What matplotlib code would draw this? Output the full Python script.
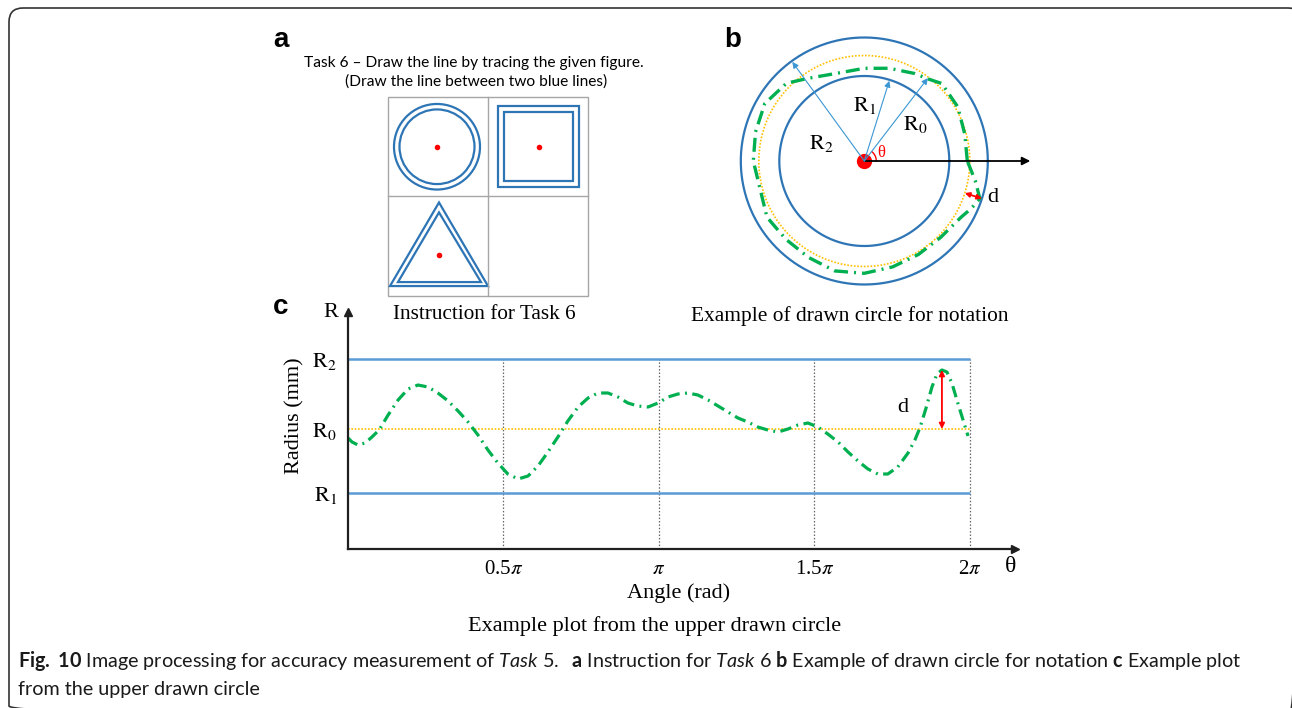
import numpy as np
import matplotlib
matplotlib.use("Agg")
import matplotlib.pyplot as plt
from matplotlib.patches import Circle, Rectangle, Polygon, FancyBboxPatch

# ---------------- data ----------------
# panel c: angle (in units of pi) and drawn radius (mm, schematic)
c_theta = [0.000, 0.013, 0.032, 0.055, 0.077, 0.100, 0.129, 0.161, 0.193, 0.225,
           0.257, 0.289, 0.322, 0.354, 0.386, 0.418, 0.450, 0.482, 0.514, 0.547,
           0.579, 0.611, 0.643, 0.675, 0.707, 0.740, 0.772, 0.804, 0.836, 0.868,
           0.900, 0.932, 0.965, 0.997, 1.029, 1.061, 1.093, 1.125, 1.158, 1.190,
           1.222, 1.254, 1.286, 1.318, 1.350, 1.383, 1.415, 1.447, 1.479, 1.511,
           1.543, 1.576, 1.608, 1.640, 1.672, 1.704, 1.736, 1.768, 1.801, 1.823,
           1.839, 1.859, 1.878, 1.894, 1.910, 1.926, 1.942, 1.961, 1.981, 1.994]
c_radius = [11.1, 10.7, 10.4, 10.6, 11.2, 11.9, 13.4, 14.9, 16.0, 16.4,
            16.2, 15.6, 14.8, 13.8, 12.7, 11.4, 9.9, 8.6, 7.5, 7.0,
            7.3, 8.3, 9.7, 11.2, 12.8, 14.2, 15.1, 15.6, 15.6, 15.2,
            14.6, 14.3, 14.2, 14.6, 15.2, 15.5, 15.6, 15.4, 14.9, 14.3,
            13.7, 13.1, 12.7, 12.2, 11.9, 11.7, 12.0, 12.4, 12.6, 12.2,
            11.5, 10.7, 9.7, 8.8, 8.0, 7.5, 7.5, 8.2, 9.6, 10.9,
            12.1, 14.1, 16.2, 17.5, 17.9, 17.7, 16.6, 14.6, 12.6, 11.3]
c_R1, c_R0, c_R2 = 5.6, 12.0, 19.0
c_ticks = [0.5, 1.0, 1.5, 2.0]
c_ticklabels = [r"0.5$\pi$", r"$\pi$", r"1.5$\pi$", r"2$\pi$"]
c_ylabels = [r"$\mathrm{R}_1$", r"$\mathrm{R}_0$", r"$\mathrm{R}_2$"]
c_d_theta = 1.91

# panel b: drawn circle, angle (deg) and radius (schematic units)
b_theta_deg = [0, 15, 30, 45, 52, 60, 75, 90, 105, 124, 135, 150, 165, 180,
               210, 225, 240, 255, 270, 285, 300, 315, 330, 336, 342, 350, 360]
b_radius = [103, 104, 108, 109.6, 104, 101, 96, 92.7, 91.5, 99.8, 110, 114.9, 112.6, 111,
            112.4, 110.8, 111.4, 113.8, 112.3, 109.6, 108, 108, 112, 117, 121.5, 112.6, 103]
b_R1, b_R0, b_R2 = 85.0, 105.5, 123.5
b_arrow_deg = {"R2": 126.0, "R1": 72.7, "R0": 52.5}
b_d_deg = -17.7

# ---------------- figure ----------------
W, H = 1292, 708
fig = plt.figure(figsize=(W / 100, H / 100), dpi=100)
plt.rcParams["mathtext.fontset"] = "stix"
plt.rcParams["mathtext.rm"] = "Lato"
plt.rcParams["mathtext.it"] = "Lato:italic"
plt.rcParams["mathtext.bf"] = "Lato:bold"
SERIF = "Liberation Serif"

def fx(x):
    return x / W

def fy(y):
    return 1 - y / H

# frame
bg = fig.add_axes([0, 0, 1, 1])
bg.set_xlim(0, W); bg.set_ylim(H, 0); bg.axis("off")
bg.add_patch(FancyBboxPatch((9, 8), 1293, 712, boxstyle="round,pad=0,rounding_size=14",
                            fc="none", ec="#333333", lw=1.2, clip_on=True))

BLUE_DARK = "#2e75b6"
BLUE_LIGHT = "#5b9bd5"
GREEN = "#00b050"
YELLOW = "#ffc000"
dash = (0, (3.6, 1.7, 0.6, 1.7))

# ---------------- panel a ----------------
ax_a = fig.add_axes([fx(388), fy(296), 200 / W, 199 / H])
ax_a.set_xlim(0, 2); ax_a.set_ylim(2, 0); ax_a.axis("off")
ax_a.add_patch(Rectangle((0, 0), 2, 2, fc="none", ec="#a6a6a6", lw=1.0, clip_on=False))
ax_a.plot([1, 1], [0, 2], color="#a6a6a6", lw=1.0, clip_on=False)
ax_a.plot([0, 2], [1, 1], color="#a6a6a6", lw=1.0, clip_on=False)
for r in (0.43, 0.375):
    ax_a.add_patch(Circle((0.49, 0.5), r, fc="none", ec=BLUE_DARK, lw=1.6))
for h in (0.405, 0.345):
    ax_a.add_patch(Rectangle((1.505 - h, 0.495 - h), 2 * h, 2 * h, fc="none", ec=BLUE_DARK, lw=1.6))
ax_a.add_patch(Polygon([(0.51, 1.06), (0.02, 1.90), (1.0, 1.90)], closed=True, fc="none", ec=BLUE_DARK, lw=1.6))
ax_a.add_patch(Polygon([(0.51, 1.16), (0.10, 1.86), (0.93, 1.86)], closed=True, fc="none", ec=BLUE_DARK, lw=1.6))
ax_a.plot([0.49, 1.51, 0.51], [0.5, 0.5, 1.59], "o", color="red", ms=4, mec="none")

fig.text(fx(474), fy(67.5), "Task 6 \u2013 Draw the line by tracing the given figure.",
         ha="center", va="baseline", fontsize=11.2, family="Lato")
fig.text(fx(476), fy(86), "(Draw the line between two blue lines)",
         ha="center", va="baseline", fontsize=11.2, family="Lato")
fig.text(fx(484), fy(319), "Instruction for Task 6", ha="center", va="baseline",
         fontsize=15.3, family=SERIF)

# panel labels
for lab, x, y in (("a", 273, 47), ("b", 724, 47), ("c", 273, 314)):
    fig.text(fx(x), fy(y), lab, ha="left", va="baseline", fontsize=20,
             fontweight="bold", family="Liberation Sans")

# ---------------- panel b ----------------
RB = 166
cx, cy = 864.3, 161
ax_b = fig.add_axes([fx(cx - RB), fy(cy + RB), 2 * RB / W, 2 * RB / H], projection="polar")
ax_b.set_ylim(0, RB); ax_b.axis("off")
circ = np.linspace(0, 2 * np.pi, 400)
ax_b.plot(circ, np.full_like(circ, b_R2), color=BLUE_DARK, lw=1.6)
ax_b.plot(circ, np.full_like(circ, b_R1), color=BLUE_DARK, lw=1.6)
ax_b.plot(circ, np.full_like(circ, b_R0), color=YELLOW, lw=1.2, ls=(0, (1, 1)))
ax_b.plot(np.deg2rad(b_theta_deg), b_radius, color=GREEN, lw=2.4, ls=(0, (4.2, 1.8, 0.6, 1.8)))
ax_b.annotate("", xy=(0, RB), xytext=(0, 0),
              arrowprops=dict(arrowstyle="-|>", color="black", lw=1.3, mutation_scale=12,
                              shrinkA=0, shrinkB=0))
for key, rr in (("R2", b_R2), ("R1", b_R1), ("R0", b_R0)):
    ax_b.annotate("", xy=(np.deg2rad(b_arrow_deg[key]), rr - 1), xytext=(0, 0),
                  arrowprops=dict(arrowstyle="-|>", color="#3b97d3", lw=0.8, mutation_scale=9,
                                  shrinkA=0, shrinkB=0))
arc_t = np.linspace(0, np.deg2rad(50), 30)
ax_b.plot(arc_t, np.full_like(arc_t, 12), color="red", lw=1.0)
ax_b.plot([0], [0], "o", color="red", ms=11, mec="none")
ax_b.annotate("", xy=(np.deg2rad(b_d_deg), b_R2), xytext=(np.deg2rad(b_d_deg), b_R0),
              arrowprops=dict(arrowstyle="<|-|>", color="red", lw=1.3, mutation_scale=7,
                              shrinkA=0, shrinkB=0))
ax_b.text(np.deg2rad(157.4), 46.1, r"$\mathrm{R}_2$", ha="center", va="center", fontsize=16)
ax_b.text(np.deg2rad(89.3), 56, r"$\mathrm{R}_1$", ha="center", va="center", fontsize=16)
ax_b.text(np.deg2rad(35.9), 62.6, r"$\mathrm{R}_0$", ha="center", va="center", fontsize=16)
ax_b.text(np.deg2rad(26.8), 18.4, "\u03b8", ha="center", va="center", fontsize=12,
          color="red", family=SERIF)
ax_b.text(np.deg2rad(-16), 133.9, "d", ha="center", va="center", fontsize=16, family=SERIF)
fig.text(fx(850), fy(321.5), "Example of drawn circle for notation", ha="center",
         va="baseline", fontsize=15.4, family=SERIF)

# ---------------- panel c ----------------
ax_c = fig.add_axes([fx(348), fy(549), (1015 - 348) / W, (549 - 312) / H])
ax_c.set_xlim(0, 2.145); ax_c.set_ylim(0, 23.7)
ax_c.patch.set_alpha(0)
for s in ("top", "right"):
    ax_c.spines[s].set_visible(False)
for s in ("left", "bottom"):
    ax_c.spines[s].set_linewidth(1.6)
    ax_c.spines[s].set_color("#1f1f1f")
ax_c.plot(1, 0, ">", color="#1f1f1f", ms=6, transform=ax_c.transAxes, clip_on=False)
ax_c.plot(0, 1, "^", color="#1f1f1f", ms=6, transform=ax_c.transAxes, clip_on=False)
ax_c.vlines(c_ticks, 0, c_R2, colors="#666666", lw=0.9, linestyles=(0, (1.2, 1.5)))
ax_c.hlines([c_R1, c_R2], 0, 2, colors=BLUE_LIGHT, lw=1.8)
ax_c.hlines([c_R0], 0, 2, colors=YELLOW, lw=1.2, linestyles=(0, (1, 1)))
ax_c.plot(c_theta, c_radius, color=GREEN, lw=2.3, ls=dash)
ax_c.annotate("", xy=(c_d_theta, max(c_radius)), xytext=(c_d_theta, c_R0),
              arrowprops=dict(arrowstyle="<|-|>", color="red", lw=1.3, mutation_scale=8,
                              shrinkA=0, shrinkB=0))
ax_c.text(1.785, 14.2, "d", ha="center", va="center", fontsize=16, family=SERIF)
ax_c.set_xticks(c_ticks)
ax_c.set_xticklabels(c_ticklabels, fontsize=15, family=SERIF)
ax_c.set_yticks([c_R1, c_R0, c_R2])
ax_c.set_yticklabels(c_ylabels, fontsize=16)
ax_c.tick_params(length=0, pad=8)
fig.text(fx(331), fy(312.5), "R", ha="center", va="center", fontsize=16, family=SERIF)
fig.text(fx(1011), fy(566), "\u03b8", ha="center", va="center", fontsize=17, family=SERIF)
fig.text(fx(295), fy(416), "Radius (mm)", ha="center", va="center", rotation=90,
         fontsize=16, family=SERIF)
fig.text(fx(679), fy(593), "Angle (rad)", ha="center", va="center", fontsize=16, family=SERIF)
fig.text(fx(655), fy(626), "Example plot from the upper drawn circle", ha="center",
         va="center", fontsize=16, family=SERIF)

# ---------------- caption ----------------
cap1 = (r"$\mathbf{Fig.\ 10}$ Image processing for accuracy measurement of $\mathit{Task\ 5.}$"
        r"  $\mathbf{a}$ Instruction for $\mathit{Task\ 6}$ $\mathbf{b}$ Example of drawn circle"
        r" for notation $\mathbf{c}$ Example plot")
fig.text(fx(18), fy(667), cap1, ha="left", va="baseline", fontsize=14.2, family="Lato",
         math_fontfamily="custom", color="#1a1a1a")
fig.text(fx(18), fy(695), "from the upper drawn circle", ha="left", va="baseline",
         fontsize=14.2, family="Lato", color="#1a1a1a")

fig.savefig("out.png", dpi=100)
